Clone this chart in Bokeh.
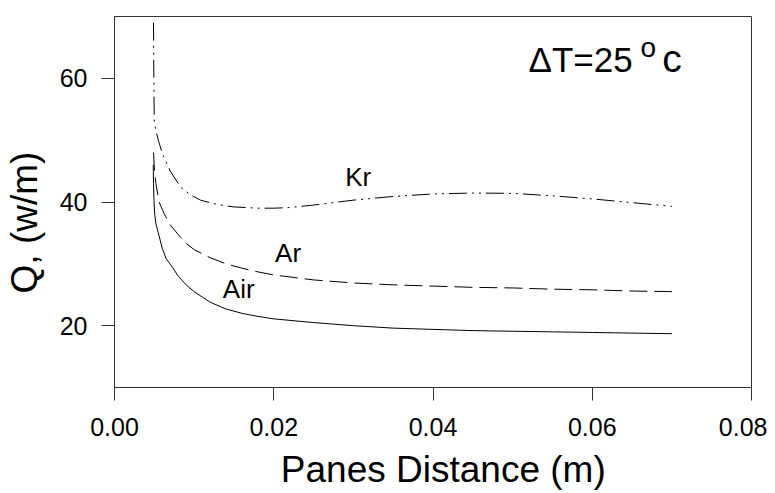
from bokeh.plotting import figure
from bokeh.models import ColumnDataSource, FixedTicker, NumeralTickFormatter, Range1d
from bokeh.core.properties import value
from bokeh.embed import file_html
from bokeh.resources import INLINE

# Data
air_x = [0.00487, 0.0049, 0.00495, 0.00505, 0.0052, 0.0055, 0.006, 0.0065, 0.0073, 0.008, 0.009, 0.010,
         0.012, 0.014, 0.016, 0.018, 0.020, 0.025, 0.030, 0.035, 0.040, 0.045, 0.050,
         0.055, 0.060, 0.065, 0.070]
air_q = [46.0, 43.0, 40.5, 38.0, 36.5, 35.0, 32.5, 30.8, 29.4, 28.0, 26.6, 25.5,
         23.8, 22.7, 22.0, 21.5, 21.1, 20.5, 20.0, 19.6, 19.4, 19.2, 19.1,
         19.0, 18.9, 18.8, 18.7]

ar_x = [0.0049, 0.005, 0.0052, 0.0056, 0.0062, 0.007, 0.0079, 0.009, 0.010, 0.012, 0.014,
        0.016, 0.018, 0.020, 0.025, 0.030, 0.035, 0.040, 0.045, 0.050, 0.055,
        0.060, 0.065, 0.070]
ar_q = [48.0, 45.5, 43.0, 40.0, 38.2, 36.3, 34.9, 33.3, 32.3, 31.0, 30.0,
        29.3, 28.7, 28.2, 27.4, 26.9, 26.6, 26.4, 26.2, 26.1, 25.9,
        25.8, 25.6, 25.5]

kr_x = [0.0049, 0.00493, 0.00497, 0.005, 0.0055, 0.006, 0.007, 0.0083, 0.0095, 0.0108,
        0.0129, 0.015, 0.018, 0.020, 0.022, 0.025, 0.030, 0.035, 0.040, 0.045,
        0.050, 0.055, 0.060, 0.065, 0.070]
kr_q = [69.0, 62.0, 56.0, 52.7, 50.0, 47.9, 45.0, 42.4, 41.2, 40.3,
        39.6, 39.2, 39.0, 39.0, 39.1, 39.5, 40.3, 40.9, 41.3, 41.45,
        41.4, 41.0, 40.5, 39.9, 39.3]

gas_names = ["Kr", "Ar", "Air"]
gas_label_x = [0.0306, 0.0218, 0.0156]
gas_label_q = [44.0, 31.7, 26.0]

x_ticks = [0.0, 0.02, 0.04, 0.06, 0.08]
y_ticks = [20, 40, 60]

NB = "\u00a0"
x_title = NB * 2 + "Panes Distance (m)"
y_title = "Q, (w/m)" + NB * 4

FONT = "Liberation Sans"
LINE = "#333333"

p = figure(width=767, height=493, output_backend="svg", toolbar_location=None,
           x_range=Range1d(0, 0.08), y_range=Range1d(10, 70),
           min_border_left=114, min_border_right=16, min_border_top=16, min_border_bottom=106)
p.background_fill_color = "white"
p.border_fill_color = "white"
p.outline_line_color = LINE
p.outline_line_width = 1
p.xgrid.visible = False
p.ygrid.visible = False

for ax in (p.xaxis[0], p.yaxis[0]):
    ax.axis_line_color = LINE
    ax.major_tick_line_color = LINE
    ax.major_tick_out = 13
    ax.major_tick_in = 0
    ax.minor_tick_line_color = None
    ax.major_label_text_font = FONT
    ax.major_label_text_font_size = "25px"
    ax.major_label_text_color = "black"
    ax.axis_label_text_font = FONT
    ax.axis_label_text_font_size = "37px"
    ax.axis_label_text_font_style = "normal"
    ax.axis_label_text_color = "black"
    ax.axis_label_text_line_height = 1.0

p.xaxis.ticker = FixedTicker(ticks=x_ticks)
p.xaxis.formatter = NumeralTickFormatter(format="0.00")
p.xaxis.major_label_standoff = 17
p.xaxis.axis_label = x_title
p.xaxis.axis_label_standoff = 10

p.yaxis.ticker = FixedTicker(ticks=y_ticks)
p.yaxis.major_label_standoff = 14
p.yaxis.axis_label = y_title
p.yaxis.axis_label_standoff = 12

p.line(air_x, air_q, line_color="black", line_width=1)
p.line(ar_x, ar_q, line_color="black", line_width=1, line_dash="18 7")
p.line(kr_x, kr_q, line_color="black", line_width=1, line_dash="18 5 2 5 2 5")

src = ColumnDataSource(dict(x=gas_label_x, y=gas_label_q, t=gas_names))
p.text(x="x", y="y", text="t", source=src, text_font=value(FONT), text_font_size="26px",
       text_align="center", text_baseline="alphabetic", text_color="black")

# Title annotation: "ΔT=25 °c" with superscript o
title_parts = ["ΔT=25", "o", "c"]
title_x = [0.0520, 0.06606, 0.06880]
title_q = [63.05, 65.0, 63.2]
title_sizes = ["35px", "28px", "39px"]
tsrc = ColumnDataSource(dict(x=title_x, y=title_q, t=title_parts, s=title_sizes))
p.text(x="x", y="y", text="t", source=tsrc, text_font=value(FONT), text_font_size="s",
       text_align="left", text_baseline="alphabetic", text_color="black")

open("out.html", "w").write(file_html(p, INLINE))
